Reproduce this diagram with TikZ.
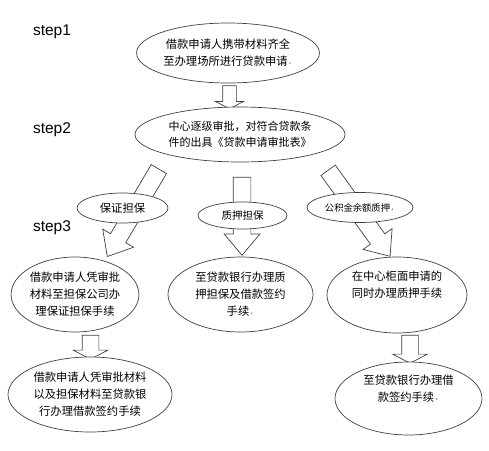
\documentclass[tikz,border=0pt]{standalone}
\usepackage{fontspec}
\setmainfont{Liberation Sans}
\newfontfamily\cjk{Noto Sans CJK SC}
\usepackage{tikz}
\usetikzlibrary{shapes.geometric}
\usetikzlibrary{shapes.arrows}
\tikzset{
  elipse/.style={ellipse, draw=black!75, line width=0.7pt, fill=white, minimum width=#1, inner sep=0pt, align=center, font=\cjk\fontsize{11.3}{17}\selectfont},
  elipse/.default=100pt,
  setacurta/.style={single arrow, draw=black!75, line width=0.7pt, fill=white, inner xsep=0pt, inner ysep=8pt, single arrow head extend=9pt, single arrow tip angle=125, minimum height=#1},
  setalonga/.style={single arrow, draw=black!75, line width=0.7pt, fill=white, inner xsep=0pt, inner ysep=8.5pt, single arrow head extend=9pt, single arrow tip angle=80, minimum height=#1},
  etapa/.style={anchor=base, font=\fontsize{15.5}{18}\selectfont},
}
\begin{document}
\begin{tikzpicture}[x=1pt, y=-1pt]
  \useasboundingbox (0,0) rectangle (489,450);
  % setas grossas (por baixo das elipses)
  \node[setacurta=23pt, inner ysep=6.5pt, single arrow head extend=7pt, rotate=-90] (a1) at (229.5,95.5) {};
  \node[setalonga=101.5pt, rotate=-120.5] (a2) at (135.75,208.25) {};
  \node[setalonga=78pt, rotate=-90] (a3) at (242,211) {};
  \node[setalonga=106pt, rotate=-54.2] (a4) at (356,209) {};
  \node[setacurta=24pt, rotate=-90] (a5) at (90.5,345) {};
  \node[setacurta=28pt, rotate=-90] (a6) at (410,347) {};
  % etapas
  \node[etapa] (s1) at (52,35) {step1};
  \node[etapa] (s2) at (52,133) {step2};
  \node[etapa] (s3) at (52,231) {step3};
  % elipses
  \node[elipse=180pt, minimum height=60pt] (e1) at (228,53)
    {借款申请人携带材料齐全\\至办理场所进行贷款申请{\tiny·}};
  \node[elipse=210pt, minimum height=55pt, font=\cjk\fontsize{11}{16}\selectfont] (e2) at (240,134.5)
    {中心逐级审批，对符合贷款条\\件的出具《贷款申请审批表》};
  \node[elipse=91pt, minimum height=30pt] (e3) at (122.5,208) {保证担保};
  \node[elipse=89pt, minimum height=27pt, font=\cjk\fontsize{10.5}{14}\selectfont] (e4) at (242.5,215.5) {质押担保};
  \node[elipse=106pt, minimum height=30pt, font=\cjk\fontsize{9.3}{12}\selectfont] (e5) at (360,207.5) {公积金余额质押{\tiny·}};
  \node[elipse=116pt, minimum height=75pt] (e6) at (75,294.5)
    {借款申请人凭审批\\材料至担保公司办\\理保证担保手续};
  \node[elipse=145pt, minimum height=75pt] (e7) at (240.5,294.5)
    {至贷款银行办理质\\押担保及借款签约\\手续{\tiny·}};
  \node[elipse=140pt, minimum height=76pt] (e8) at (397,295)
    {在中心柜面申请的\\同时办理质押手续\\[4pt]};
  \node[elipse=164pt, minimum height=75pt] (e9) at (90,394.5)
    {借款申请人凭审批材料\\以及担保材料至贷款银\\行办理借款签约手续};
  \node[elipse=147pt, minimum height=73pt] (e10) at (408.5,398.5)
    {至贷款银行办理借\\款签约手续{\tiny·}\\[4pt]};
\end{tikzpicture}
\end{document}
